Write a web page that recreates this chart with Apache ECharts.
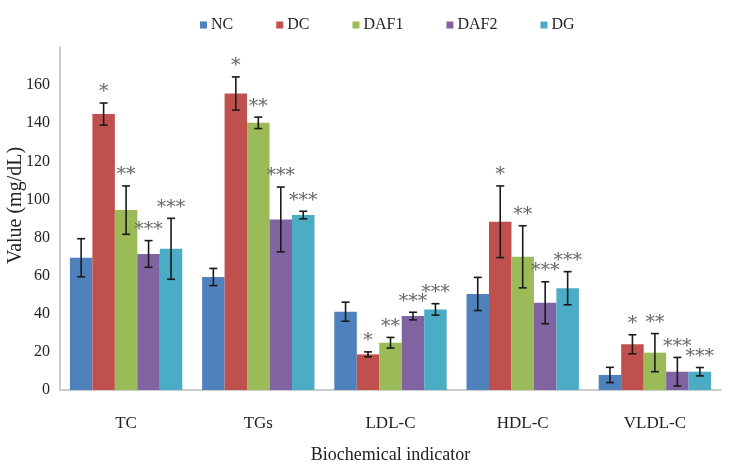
<!DOCTYPE html>
<html>
<head>
<meta charset="utf-8">
<script src="https://cdn.jsdelivr.net/npm/echarts@6/dist/echarts.min.js"></script>
<style>html,body{margin:0;padding:0;background:#fff;}#c{width:730px;height:466px;}</style>
</head>
<body>
<div id="c"></div>
<script>
const categories = ['TC', 'TGs', 'LDL-C', 'HDL-C', 'VLDL-C'];
const seriesNames = ['NC', 'DC', 'DAF1', 'DAF2', 'DG'];
const ncValues = [69.4, 59.3, 41.1, 50.4, 7.9];
const dcValues = [144.8, 155.6, 18.7, 88.3, 24.0];
const daf1Values = [94.4, 140.2, 24.8, 69.9, 19.6];
const daf2Values = [71.4, 89.5, 38.8, 45.8, 9.6];
const dgValues = [74.1, 91.8, 42.3, 53.4, 9.6];
const ncErr = [10, 4.5, 5, 8.7, 4];
const dcErr = [5.8, 8.7, 1.3, 18.8, 5];
const daf1Err = [12.7, 3, 2.8, 16.3, 10];
const daf2Err = [7, 17, 2, 11, 7.5];
const dgErr = [16, 2, 3, 8.7, 2.2];
const marks = ['', '*', '**', '***', '***'];
const yTicks = [0, 20, 40, 60, 80, 100, 120, 140, 160];

const colors = ['#4F81BD', '#C0504D', '#9BBB59', '#8064A2', '#4BACC6'];
const allValues = [ncValues, dcValues, daf1Values, daf2Values, dgValues];
const allErr = [ncErr, dcErr, daf1Err, daf2Err, dgErr];
const FONT = 'Liberation Serif';
const CAT_GAP = 0.15;

const errData = [];
allValues.forEach((vals, s) => {
  vals.forEach((v, c) => errData.push([c, v, s, allErr[s][c]]));
});

const barSeries = seriesNames.map((name, s) => ({
  name: name,
  type: 'bar',
  data: allValues[s],
  itemStyle: { color: colors[s] },
  barGap: '0%',
  barCategoryGap: (CAT_GAP * 100) + '%'
}));

const errSeries = {
  type: 'custom',
  name: 'err',
  data: errData,
  encode: { x: 0, y: 1 },
  z: 10,
  silent: true,
  renderItem: function (params, api) {
    const c = api.value(0), v = api.value(1), s = api.value(2), e = api.value(3);
    const band = api.size([1, 0])[0];
    const bw = band * (1 - CAT_GAP) / seriesNames.length;
    const center = api.coord([c, 0])[0];
    const x = center + (s - (seriesNames.length - 1) / 2) * bw;
    const yHi = api.coord([c, v + e])[1];
    const yLo = api.coord([c, v - e])[1];
    const cap = 4;
    const ls = { stroke: '#1a1a1a', lineWidth: 1.6 };
    const children = [
      { type: 'line', shape: { x1: x, y1: yHi, x2: x, y2: yLo }, style: ls },
      { type: 'line', shape: { x1: x - cap, y1: yHi, x2: x + cap, y2: yHi }, style: ls },
      { type: 'line', shape: { x1: x - cap, y1: yLo, x2: x + cap, y2: yLo }, style: ls }
    ];
    if (marks[s]) {
      children.push({
        type: 'text',
        style: {
          text: marks[s], x: x, y: yHi - 1,
          textAlign: 'center', textVerticalAlign: 'bottom',
          fill: '#666', font: '19px "DejaVu Serif"'
        }
      });
    }
    return { type: 'group', children: children };
  }
};

const chart = echarts.init(document.getElementById('c'), null, { renderer: 'canvas' });
chart.setOption({
  animation: false,
  textStyle: { fontFamily: FONT },
  legend: {
    data: seriesNames,
    top: 12,
    left: 195,
    itemWidth: 7,
    itemHeight: 7,
    itemGap: 43,
    icon: 'rect',
    textStyle: { fontFamily: FONT, fontSize: 16, color: '#222', padding: [0, 0, 0, -1] }
  },
  grid: { left: 60, right: 9, top: 47, bottom: 76, containLabel: false, outerBoundsMode: 'none' },
  xAxis: {
    type: 'category',
    data: categories,
    name: 'Biochemical indicator',
    nameLocation: 'middle',
    nameGap: 56,
    nameMoveOverlap: false,
    nameTextStyle: { fontFamily: FONT, fontSize: 18, color: '#222' },
    axisLine: { lineStyle: { color: '#bdbdbd', width: 1.5 } },
    axisTick: { show: false },
    axisLabel: { fontFamily: FONT, fontSize: 17, color: '#222', margin: 25 }
  },
  yAxis: {
    type: 'value',
    min: 0, max: 180, interval: 20,
    name: 'Value (mg/dL)',
    nameLocation: 'middle',
    nameGap: 34,
    nameMoveOverlap: false,
    nameTextStyle: { fontFamily: FONT, fontSize: 20, color: '#222', padding: [0, 0, 0, 26] },
    axisLine: { show: true, lineStyle: { color: '#bdbdbd', width: 1.5 } },
    axisTick: { show: false },
    splitLine: { show: false },
    axisLabel: {
      fontFamily: FONT, fontSize: 16, color: '#222', margin: 10,
      formatter: function (v) { return yTicks.indexOf(v) >= 0 ? String(v) : ''; }
    }
  },
  series: barSeries.concat([errSeries])
});
</script>
</body>
</html>
